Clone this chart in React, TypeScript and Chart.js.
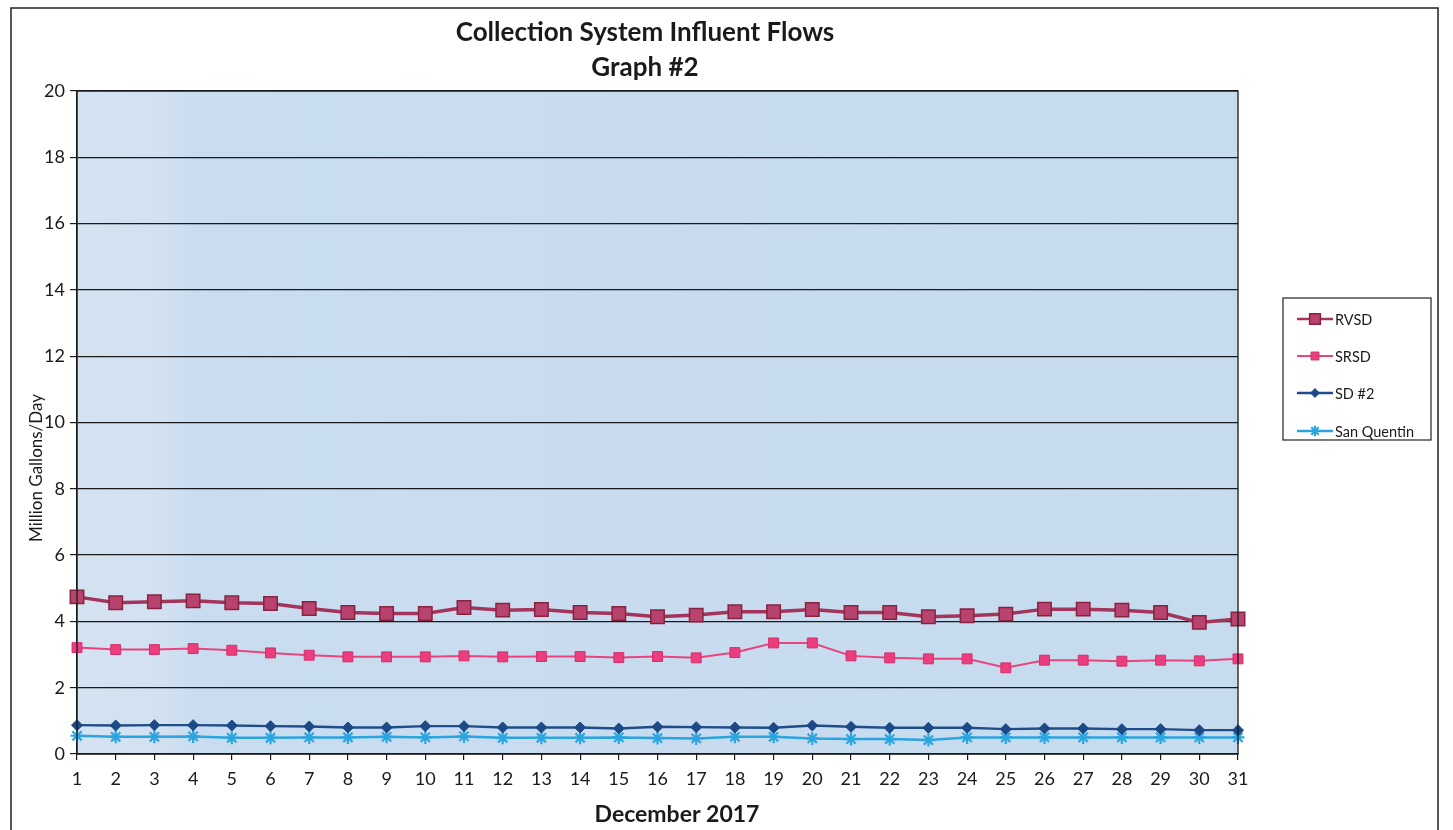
import React, { useEffect, useRef } from "react";
import { Chart, registerables } from "chart.js";
import { drawPoint } from "chart.js/helpers";

Chart.register(...registerables);

// December 2017 daily influent flows, million gallons per day
const days: string[] = Array.from({ length: 31 }, (_, i) => String(i + 1));

const rvsd: number[] = [
  4.74, 4.56, 4.59, 4.62, 4.56, 4.54, 4.39, 4.27, 4.24, 4.24, 4.42, 4.34, 4.36,
  4.27, 4.24, 4.14, 4.19, 4.29, 4.29, 4.36, 4.27, 4.27, 4.14, 4.17, 4.22, 4.37,
  4.37, 4.34, 4.27, 3.97, 4.07,
];

const srsd: number[] = [
  3.21, 3.15, 3.15, 3.18, 3.13, 3.05, 2.98, 2.93, 2.93, 2.93, 2.96, 2.93, 2.94,
  2.94, 2.91, 2.94, 2.9, 3.06, 3.35, 3.35, 2.96, 2.9, 2.87, 2.87, 2.6, 2.83,
  2.83, 2.8, 2.83, 2.81, 2.87,
];

const sd2: number[] = [
  0.87, 0.86, 0.87, 0.87, 0.86, 0.84, 0.83, 0.8, 0.8, 0.84, 0.84, 0.8, 0.8,
  0.8, 0.77, 0.82, 0.81, 0.8, 0.79, 0.86, 0.82, 0.79, 0.79, 0.79, 0.75, 0.77,
  0.77, 0.75, 0.75, 0.72, 0.72,
];

const sanQuentin: number[] = [
  0.55, 0.52, 0.52, 0.53, 0.49, 0.49, 0.5, 0.5, 0.52, 0.5, 0.53, 0.49, 0.49,
  0.49, 0.5, 0.48, 0.47, 0.52, 0.52, 0.47, 0.45, 0.45, 0.42, 0.5, 0.5, 0.5,
  0.5, 0.5, 0.5, 0.5, 0.5,
];

const seriesNames: string[] = ["RVSD", "SRSD", "SD #2", "San Quentin"];
const yTicks: number[] = [0, 2, 4, 6, 8, 10, 12, 14, 16, 18, 20];

const titleLines: string[] = ["Collection System Influent Flows", "Graph #2"];
const xAxisTitle = "December 2017";
const yAxisTitle = "Million Gallons/Day";

const FONT = "Lato, 'Open Sans', 'DejaVu Sans', sans-serif";

const W = 1453;
const H = 830;

type SeriesStyle = {
  line: string;
  fill: string;
  border: string;
  lineWidth: number;
  pointStyle: string;
  radius: number;
  pointBorderWidth: number;
};

const styles: SeriesStyle[] = [
  { line: "#a3345c", fill: "#b8436e", border: "#87233f", lineWidth: 3.5, pointStyle: "rect", radius: 9.5, pointBorderWidth: 1.5 },
  { line: "#e8457f", fill: "#ea3f7c", border: "#d42f6b", lineWidth: 2, pointStyle: "rect", radius: 7, pointBorderWidth: 1 },
  { line: "#1f4d8a", fill: "#1c4a86", border: "#1c4a86", lineWidth: 2.4, pointStyle: "rectRot", radius: 5.5, pointBorderWidth: 1 },
  { line: "#2aa5e0", fill: "#2aa5e0", border: "#2aa5e0", lineWidth: 2.5, pointStyle: "star", radius: 6.5, pointBorderWidth: 2.2 },
];

const seriesData: number[][] = [rvsd, srsd, sd2, sanQuentin];

// Plot background, frame, titles, and the boxed legend on the right
const decorPlugin = {
  id: "decor",
  beforeDraw(chart: any) {
    const { ctx, chartArea: a } = chart;
    ctx.save();
    ctx.fillStyle = "#ffffff";
    ctx.fillRect(0, 0, W, H);
    const g = ctx.createLinearGradient(a.left, 0, a.right, 0);
    g.addColorStop(0, "#d4e2f1");
    g.addColorStop(0.075, "#d2e1f1");
    g.addColorStop(0.1, "#c9dcf0");
    g.addColorStop(1, "#c7dbef");
    ctx.fillStyle = g;
    ctx.fillRect(a.left, a.top, a.right - a.left, a.bottom - a.top);
    ctx.restore();
  },
  afterDatasetsDraw(chart: any) {
    const { ctx, chartArea: a } = chart;
    ctx.save();

    // plot border
    ctx.strokeStyle = "#1a1a1a";
    ctx.lineWidth = 1.3;
    ctx.strokeRect(a.left, a.top, a.right - a.left, a.bottom - a.top);

    // outer chart frame
    ctx.strokeStyle = "#222";
    ctx.lineWidth = 1.5;
    ctx.beginPath();
    ctx.moveTo(11, H + 2);
    ctx.lineTo(11, 8);
    ctx.lineTo(1438, 8);
    ctx.lineTo(1438, H + 2);
    ctx.stroke();

    // titles
    ctx.fillStyle = "#1a1a1a";
    ctx.textAlign = "center";
    ctx.textBaseline = "middle";
    ctx.font = `bold 26px ${FONT}`;
    ctx.fillText(titleLines[0], 645, 33);
    ctx.fillText(titleLines[1], 645, 68);
    ctx.font = `bold 23px ${FONT}`;
    ctx.fillText(xAxisTitle, 677, 815);

    ctx.save();
    ctx.translate(37, 468);
    ctx.rotate(-Math.PI / 2);
    ctx.font = `17px ${FONT}`;
    ctx.fillText(yAxisTitle, 0, 0);
    ctx.restore();

    // legend
    const lx = 1283;
    const ly = 298;
    ctx.strokeStyle = "#222";
    ctx.lineWidth = 1.2;
    ctx.strokeRect(lx, ly, 148, 142);
    const rows = [319, 356, 393, 431];
    ctx.textAlign = "left";
    ctx.font = `14.5px ${FONT}`;
    seriesNames.forEach((name, i) => {
      const s = styles[i];
      const y = rows[i];
      ctx.strokeStyle = s.line;
      ctx.lineWidth = Math.min(s.lineWidth, 2.5);
      ctx.beginPath();
      ctx.moveTo(1297, y);
      ctx.lineTo(1333, y);
      ctx.stroke();
      ctx.fillStyle = s.fill;
      ctx.strokeStyle = s.border;
      ctx.lineWidth = s.pointBorderWidth;
      drawPoint(ctx, { pointStyle: s.pointStyle as any, rotation: 0, radius: s.radius * 0.8, borderWidth: s.pointBorderWidth }, 1315, y);
      ctx.fillStyle = "#1a1a1a";
      ctx.fillText(name, 1335, y + 1);
    });

    ctx.restore();
  },
};

export default function App() {
  const canvasRef = useRef<HTMLCanvasElement | null>(null);

  useEffect(() => {
    const canvas = canvasRef.current;
    if (!canvas) return;

    const chart = new Chart(canvas, {
      type: "line",
      data: {
        labels: days,
        datasets: seriesData.map((values, i) => ({
          label: seriesNames[i],
          data: values,
          borderColor: styles[i].line,
          borderWidth: styles[i].lineWidth,
          backgroundColor: styles[i].fill,
          pointBackgroundColor: styles[i].fill,
          pointBorderColor: styles[i].border,
          pointBorderWidth: styles[i].pointBorderWidth,
          pointStyle: styles[i].pointStyle as any,
          pointRadius: styles[i].radius,
          pointHoverRadius: styles[i].radius,
          tension: 0,
          fill: false,
          clip: false as any,
        })),
      },
      options: {
        responsive: false,
        animation: false,
        devicePixelRatio: 1,
        layout: { padding: { top: 91, right: W - 1238, bottom: 0, left: 0 } },
        plugins: {
          legend: { display: false },
          title: { display: false },
          tooltip: { enabled: false },
        },
        scales: {
          x: {
            offset: false,
            afterFit: (scale: any) => {
              scale.height = H - 754;
            },
            grid: {
              drawOnChartArea: false,
              drawTicks: true,
              tickLength: 6,
              color: "#1a1a1a",
              lineWidth: 1.2,
            },
            border: { display: true, color: "#1a1a1a", width: 1.3 },
            ticks: {
              color: "#1a1a1a",
              font: { family: FONT, size: 18 },
              padding: 8,
              maxRotation: 0,
              autoSkip: false,
            },
          },
          y: {
            min: 0,
            max: 20,
            afterFit: (scale: any) => {
              scale.width = 77;
            },
            afterBuildTicks: (scale: any) => {
              scale.ticks = yTicks.map((v) => ({ value: v }));
            },
            grid: {
              color: "#1a1a1a",
              lineWidth: 1.2,
              drawTicks: true,
              tickLength: 7,
            },
            border: { display: true, color: "#1a1a1a", width: 1.3 },
            ticks: {
              color: "#1a1a1a",
              font: { family: FONT, size: 18 },
              padding: 5,
            },
          },
        },
      },
      plugins: [decorPlugin],
    });

    return () => chart.destroy();
  }, []);

  return (
    <div style={{ position: "fixed", left: 0, top: 0, width: W, height: H, background: "#fff" }}>
      <canvas ref={canvasRef} width={W} height={H} style={{ display: "block", width: W, height: H }} />
    </div>
  );
}
